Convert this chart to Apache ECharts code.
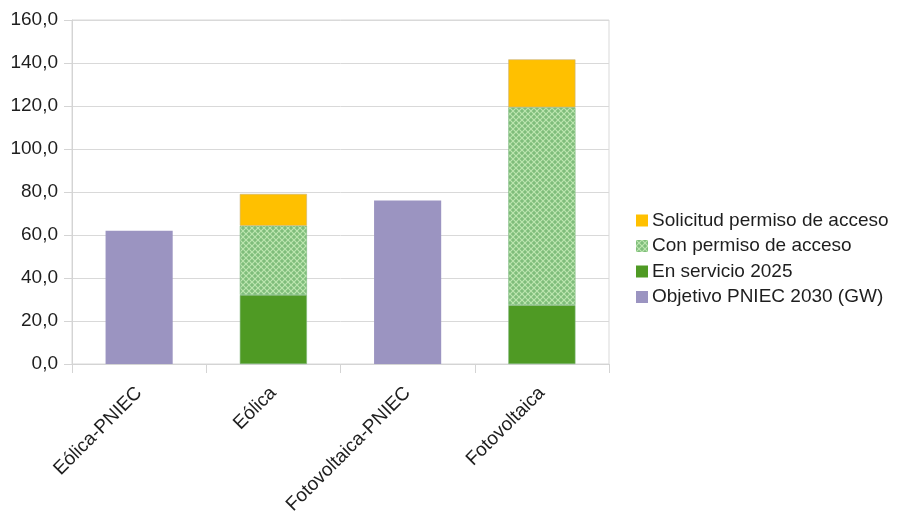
<!DOCTYPE html>
<html>
<head>
<meta charset="utf-8">
<script src="https://cdn.jsdelivr.net/npm/echarts@6/dist/echarts.min.js"></script>
<style>
  html, body { margin: 0; padding: 0; background: #ffffff; }
  #chart { width: 900px; height: 520px; }
</style>
</head>
<body>
<div id="chart"></div>
<script>
// Capacity by technology (GW)
const categories = ['Eólica-PNIEC', 'Eólica', 'Fotovoltaica-PNIEC', 'Fotovoltaica'];
const objetivoPNIEC = [62.0, '-', 76.0, '-'];
const enServicio = ['-', 32.1, '-', 27.4];
const conPermiso = ['-', 32.2, '-', 92.0];
const solicitud = ['-', 14.8, '-', 22.3];
const yTicks = [0, 20, 40, 60, 80, 100, 120, 140, 160];

// Cross-hatched fill for the "with access permit" segment
function hatchPattern() {
  const c = document.createElement('canvas');
  c.width = 6; c.height = 6;
  const g = c.getContext('2d');
  g.fillStyle = '#7fbd7b';
  g.fillRect(0, 0, 6, 6);
  g.strokeStyle = '#bde6b0';
  g.lineWidth = 1.2;
  g.beginPath();
  g.moveTo(0, 0); g.lineTo(6, 6);
  g.moveTo(6, 0); g.lineTo(0, 6);
  g.stroke();
  return { image: c, repeat: 'repeat' };
}

const FONT = 'Liberation Sans, Arial, sans-serif';
const TEXT = '#1e1e1e';
const chart = echarts.init(document.getElementById('chart'), null, { renderer: 'canvas' });

const barBase = { type: 'bar', stack: 'total', barWidth: '50%' };

chart.setOption({
  animation: false,
  textStyle: { fontFamily: FONT },
  grid: { left: 72, right: 291, top: 20, bottom: 156, show: true, borderColor: '#d9d9d9', borderWidth: 1 },
  legend: {
    orient: 'vertical',
    left: 631,
    top: 206,
    itemWidth: 12,
    itemHeight: 12,
    itemGap: 6.5,
    icon: 'rect',
    itemStyle: { borderWidth: 0 },
    textStyle: { fontFamily: FONT, fontSize: 19, color: TEXT, padding: [0, 0, 0, -1] },
    data: ['Solicitud permiso de acceso', 'Con permiso de acceso', 'En servicio 2025', 'Objetivo PNIEC 2030 (GW)']
  },
  xAxis: {
    type: 'category',
    data: categories,
    axisLine: { lineStyle: { color: '#d4d4d4' } },
    axisTick: { show: true, length: 9, lineStyle: { color: '#d4d4d4' } },
    axisLabel: { rotate: 45, fontSize: 19, color: TEXT, fontFamily: FONT, margin: 26 }
  },
  yAxis: {
    type: 'value',
    min: yTicks[0],
    max: yTicks[yTicks.length - 1],
    interval: yTicks[1] - yTicks[0],
    axisLine: { show: true, lineStyle: { color: '#d4d4d4' } },
    axisTick: { show: true, length: 8, lineStyle: { color: '#d4d4d4' } },
    splitLine: { lineStyle: { color: '#d9d9d9' } },
    axisLabel: {
      fontSize: 19, color: TEXT, fontFamily: FONT, margin: 14,
      formatter: v => v.toFixed(1).replace('.', ',')
    }
  },
  series: [
    Object.assign({}, barBase, {
      name: 'Objetivo PNIEC 2030 (GW)', data: objetivoPNIEC,
      itemStyle: { color: '#9b94c1' }
    }),
    Object.assign({}, barBase, {
      name: 'En servicio 2025', data: enServicio,
      itemStyle: { color: '#4f9a24', borderColor: '#7fb77a', borderWidth: 0.6 }
    }),
    Object.assign({}, barBase, {
      name: 'Con permiso de acceso', data: conPermiso,
      itemStyle: { color: hatchPattern(), borderColor: '#79b67a', borderWidth: 0.6 }
    }),
    Object.assign({}, barBase, {
      name: 'Solicitud permiso de acceso', data: solicitud,
      itemStyle: { color: '#ffc000', borderColor: '#c9b37a', borderWidth: 0.6 }
    })
  ]
});
</script>
</body>
</html>
